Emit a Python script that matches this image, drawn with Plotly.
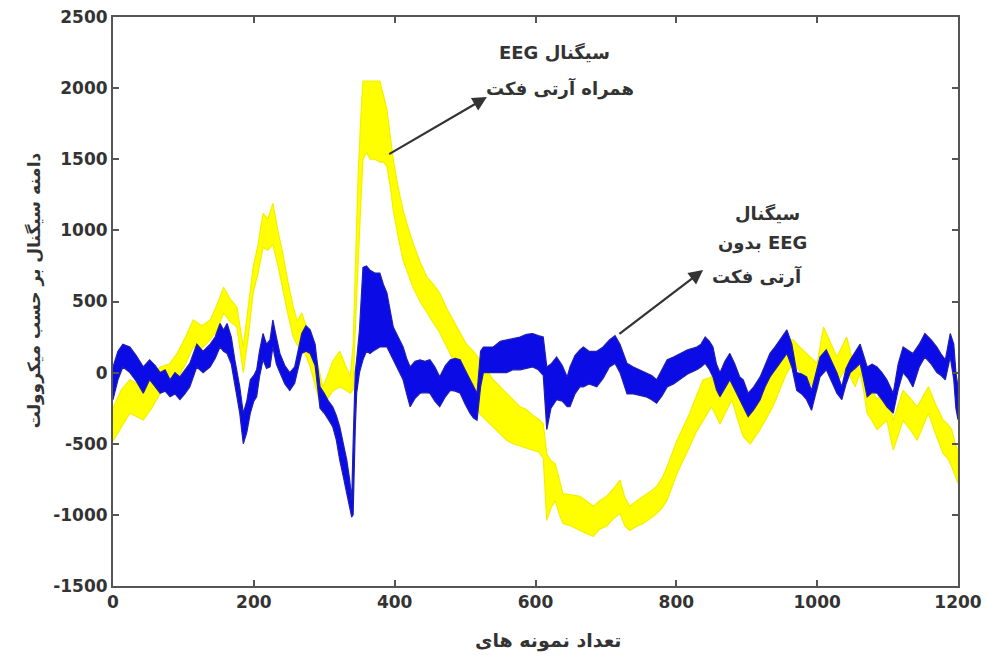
import plotly.graph_objects as go

# ---------------- data ----------------
x_ticks = [0, 200, 400, 600, 800, 1000, 1200]
x_tick_labels = ["0", "200", "400", "600", "800", "1000", "1200"]
y_ticks = [-1500, -1000, -500, 0, 500, 1000, 1500, 2000, 2500]
y_tick_labels = ["-1500", "-1000", "-500", "0", "500", "1000", "1500", "2000", "2500"]

# EEG with artifact (yellow): sample index, upper and lower edge of the noisy trace
yellow_x = [0, 12, 24, 43, 55, 67, 80, 91, 103, 114, 126, 138, 148, 157, 166, 176, 185, 192, 199, 206,
            213, 220, 227, 234, 241, 248, 256, 262, 268, 274, 280, 289, 298, 304, 312, 322, 330, 337, 341, 344,
            348, 352, 355, 360, 365, 372, 379, 384, 389, 394, 398, 405, 412, 419, 426, 436, 446, 455, 464, 474,
            483, 492, 502, 512, 521, 530, 540, 550, 559, 568, 578, 587, 596, 605, 611, 616, 622, 628, 634, 639,
            651, 663, 672, 682, 691, 701, 710, 720, 727, 734, 744, 753, 762, 772, 780, 787, 794, 801, 810, 819,
            828, 838, 845, 850, 856, 862, 870, 879, 887, 895, 905, 912, 919, 928, 937, 947, 957, 966, 975, 985,
            993, 1000, 1009, 1018, 1028, 1035, 1042, 1048, 1054, 1061, 1066, 1071, 1078, 1085, 1092, 1099, 1108, 1115, 1122, 1132,
            1142, 1150, 1158, 1168, 1179, 1185, 1191, 1196, 1200]
yellow_hi = [-250, -120, -50, -100, -20, 40, 60, 135, 250, 370, 330, 370, 480, 600, 520, 460, 180, 450, 740, 900,
             1120, 1080, 1190, 1000, 840, 650, 460, 360, 420, 330, 230, 100, -100, -30, 80, 150, 60, -30, 200, 700,
             1370, 1800, 2050, 2050, 2050, 2050, 2050, 1950, 1850, 1650, 1500, 1300, 1140, 1020, 910, 780, 670, 620, 560, 450,
             370, 280, 200, 150, 90, 20, -50, -100, -145, -190, -240, -260, -300, -330, -360, -570, -620, -640, -760, -850,
             -860, -870, -900, -940, -900, -870, -820, -755, -880, -940, -900, -870, -840, -800, -740, -660, -570, -475, -380, -285,
             -170, -50, -40, -30, -100, -170, -60, 40, -100, -190, -285, -230, -170, -90, 0, 120, 230, 230, 180, 135,
             100, 65, 320, 220, 110, 180, 250, 130, 40, 135, 50, -50, -120, -190, -150, -125, -335, -230, -125, -180,
             -240, -170, -100, -220, -335, -360, -400, -500, -550]
yellow_lo = [-480, -380, -285, -333, -250, -145, -120, -50, 60, 180, 170, 230, 300, 420, 360, 320, 0, 250, 560, 700,
             880, 860, 900, 760, 600, 420, 250, 190, 180, 120, 40, -120, -285, -190, -130, -100, -120, -145, -120, 300,
             790, 1200, 1500, 1550, 1500, 1500, 1480, 1480, 1450, 1300, 1140, 950, 790, 700, 600, 500, 420, 350, 280, 180,
             90, 0, -100, -200, -290, -330, -380, -430, -475, -500, -520, -530, -545, -560, -600, -1040, -950, -900, -1000, -1060,
             -1080, -1110, -1130, -1150, -1100, -1080, -1030, -990, -1080, -1110, -1080, -1060, -1030, -990, -950, -895, -800, -710, -610, -520,
             -420, -335, -280, -240, -300, -360, -280, -190, -330, -450, -500, -450, -400, -320, -240, -120, 0, 65, 10, -50,
             -90, -125, 135, 30, -75, -20, 40, -40, -100, 0, -130, -285, -340, -400, -370, -335, -545, -440, -335, -400,
             -475, -380, -285, -430, -570, -600, -660, -720, -780]

# EEG without artifact (blue)
blue_x = [0, 7, 14, 24, 33, 43, 52, 60, 67, 74, 81, 88, 95, 102, 109, 119, 128, 138, 145, 152,
          157, 162, 168, 173, 180, 185, 190, 195, 200, 204, 208, 213, 218, 223, 227, 232, 237, 244, 251, 258,
          263, 268, 274, 280, 287, 294, 300, 306, 312, 317, 322, 327, 332, 336, 339, 341, 344, 346, 350, 355,
          360, 365, 372, 379, 384, 389, 394, 398, 405, 412, 417, 422, 429, 436, 443, 450, 457, 464, 472, 479,
          486, 493, 500, 507, 512, 517, 522, 526, 533, 540, 550, 559, 568, 578, 587, 596, 604, 611, 616, 622,
          630, 638, 645, 649, 656, 663, 668, 676, 687, 696, 705, 713, 720, 730, 739, 748, 757, 765, 772, 780,
          787, 796, 805, 816, 829, 835, 841, 847, 852, 857, 862, 869, 876, 883, 890, 895, 902, 910, 919, 926,
          933, 940, 947, 957, 964, 971, 978, 985, 992, 998, 1004, 1013, 1020, 1028, 1035, 1041, 1047, 1054, 1061, 1066,
          1071, 1078, 1085, 1092, 1099, 1108, 1115, 1122, 1129, 1136, 1145, 1153, 1162, 1170, 1176, 1182, 1189, 1194, 1197, 1200]
blue_hi = [40, 150, 200, 180, 120, 40, 90, 50, 0, 20, -50, 0, -30, 20, 65, 200, 150, 200, 250, 345,
           300, 345, 250, 90, -100, -285, -200, -50, -20, 20, 150, 275, 200, 230, 370, 250, 135, 50, 0, 40,
           150, 275, 330, 300, 200, -100, -145, -200, -240, -300, -380, -500, -615, -750, -895, -500, 0, 90, 300, 740,
           750, 720, 700, 700, 620, 560, 420, 320, 250, 180, 100, 40, 80, 90, 80, 90, 40, -30, 50, 90,
           100, 90, 20, -50, -100, -145, 150, 180, 180, 180, 220, 230, 240, 250, 270, 275, 260, 250, 40, 60,
           110, 50, -30, 40, 120, 160, 180, 150, 150, 180, 230, 260, 200, 65, 40, 20, 0, -20, -50, 30,
           90, 110, 135, 160, 180, 200, 250, 220, 180, 60, 0, 80, 135, 60, -30, -50, -145, -100, -30, 50,
           135, 180, 230, 300, 200, 0, -10, -30, -125, 0, 110, 160, 80, 0, -100, 30, 90, 150, 200, 120,
           40, 60, 40, 0, -50, -145, 60, 180, 160, 135, 200, 275, 230, 180, 130, 90, 275, 200, 0, -100]
blue_lo = [-190, -50, 40, 0, -60, -145, -50, -100, -145, -130, -170, -150, -190, -150, -100, 40, 0, 40, 100, 180,
           150, 135, 60, -100, -285, -500, -420, -285, -200, -170, -30, 90, 30, 40, 180, 60, 0, -80, -125, -75,
           20, 135, 150, 135, 50, -250, -285, -330, -380, -470, -615, -730, -850, -950, -1015, -1000, -400, -145, 0, 90,
           150, 135, 160, 180, 180, 180, 130, 90, 20, -50, -150, -240, -180, -145, -140, -145, -200, -240, -170, -125,
           -130, -145, -220, -285, -320, -335, -100, 0, 0, 0, 0, 0, 20, 20, 30, 40, 20, -20, -400, -250,
           -190, -200, -240, -240, -150, -100, -100, -80, -100, -40, 40, 65, 0, -150, -150, -160, -170, -190, -215, -160,
           -100, -80, -50, -10, 20, 40, 65, 20, -30, -120, -170, -110, -50, -130, -190, -240, -310, -260, -190, -100,
           -30, 20, 65, 135, 40, -125, -150, -190, -265, -150, -30, 20, -60, -145, -190, -80, 0, 30, 65, -50,
           -170, -140, -145, -190, -240, -285, -120, 0, -40, -100, 40, 110, 60, 0, -20, -50, 110, -50, -250, -330]

# ---------------- text ----------------
RLE, PDF = "\u202b", "\u202c"
label_with_lines = ["سیگنال EEG", "همراه آرتی فکت"]
label_without_lines = ["سیگنال", "EEG بدون", "آرتی فکت"]
x_title = "تعداد نمونه های"
y_title = "دامنه سیگنال بر حسب میکروولت"

font_main = "DejaVu Sans, Arial, sans-serif"


def rtl(s):
    return RLE + s + PDF


def band(xs, hi, lo, color, edge):
    return go.Scatter(
        x=xs + xs[::-1], y=hi + lo[::-1], mode="lines", fill="toself",
        fillcolor=color, line=dict(color=edge, width=1.2), hoverinfo="skip", showlegend=False,
    )


fig = go.Figure()
fig.add_trace(band(yellow_x, yellow_hi, yellow_lo, "#ffff00", "#f2f000"))
fig.add_trace(band(blue_x, blue_hi, blue_lo, "#0b0be6", "#2020b0"))

axis_common = dict(
    showgrid=False, zeroline=False, showline=True, linecolor="#555555", linewidth=2,
    mirror="ticks", ticks="inside", ticklen=6, tickwidth=2, tickcolor="#555555",
    tickfont=dict(family=font_main, size=17, color="#333333", weight="bold"),
    automargin=False,
)
fig.update_xaxes(range=[0, 1200], tickvals=x_ticks, ticktext=x_tick_labels, **axis_common)
fig.update_yaxes(range=[-1500, 2500], tickvals=y_ticks, ticktext=y_tick_labels, **axis_common)

arrow = dict(showarrow=True, arrowhead=2, arrowsize=1.3, arrowwidth=2.2, arrowcolor="#333333",
             axref="x", ayref="y", xref="x", yref="y", text="")
fig.add_annotation(x=531, y=1937, ax=390, ay=1530, **arrow)
fig.add_annotation(x=838, y=721, ax=717, ay=264, **arrow)

label_font = dict(family=font_main, size=18, color="#333333", weight="bold")
# line positions (data coordinates) of the two labels
for txt, (lx, ly) in zip(label_with_lines, [(627, 2247), (635, 2000)]):
    fig.add_annotation(x=lx, y=ly, xref="x", yref="y", text=rtl(txt), showarrow=False, font=label_font)
for txt, (lx, ly) in zip(label_without_lines, [(930, 1122), (923, 911), (915, 680)]):
    fig.add_annotation(x=lx, y=ly, xref="x", yref="y", text=rtl(txt), showarrow=False, font=label_font)

fig.add_annotation(x=0.515, y=-0.095, xref="paper", yref="paper", text=rtl(x_title), showarrow=False,
                   yanchor="middle", font=dict(family=font_main, size=19, color="#333333", weight="bold"))
fig.add_annotation(x=-0.108, y=0.52, xref="paper", yref="paper", text=rtl(y_title), showarrow=False,
                   textangle=-90, font=dict(family=font_main, size=17, color="#333333", weight="bold"))

fig.update_layout(
    width=987, height=659, margin=dict(l=113, r=29, t=17, b=73, autoexpand=False),
    paper_bgcolor="white", plot_bgcolor="white", showlegend=False,
)

fig.write_html("out.html", config={"displayModeBar": False},
               post_script="document.body.style.margin='0';document.body.style.padding='0';")
